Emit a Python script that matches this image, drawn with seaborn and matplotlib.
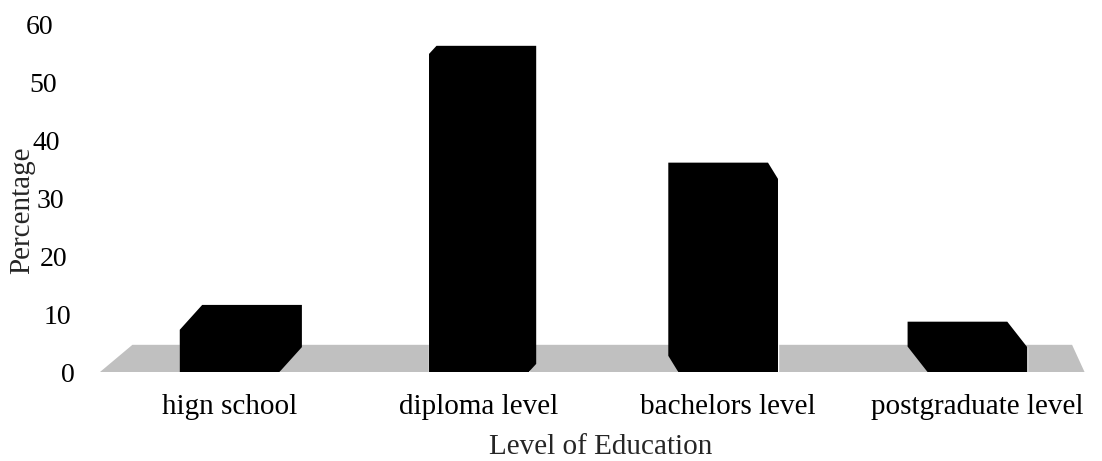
import matplotlib
matplotlib.use("Agg")
import matplotlib.pyplot as plt
import matplotlib.transforms as mtransforms
from matplotlib.patches import Polygon
import seaborn as sns
import pandas as pd

# data
levels = ["hign school", "diploma level", "bachelors level", "postgraduate level"]
percent = [7.3, 55.0, 33.4, 4.3]
yticks = [0, 10, 20, 30, 40, 50, 60]

df = pd.DataFrame({"level": levels, "percent": percent})

sns.set_theme(style="white")
plt.rcParams["font.family"] = ["Liberation Serif", "DejaVu Serif"]

fig = plt.figure(figsize=(11.02, 4.61), dpi=100)
ax = fig.add_axes([100 / 1102, (461 - 372) / 461, 1002 / 1102, 347 / 461])

# grey floor (drawn first, behind the bars)
floor = Polygon([(-0.52, 0), (3.43, 0), (3.38, 4.7), (-0.39, 4.7)],
                closed=True, facecolor="#c0c0c0", edgecolor="none", zorder=0)
ax.add_patch(floor)

sns.barplot(data=df, x="level", y="percent", color="black", width=0.4,
            saturation=1, ax=ax, zorder=2)
bars = [p for p in ax.patches if p is not floor]

# fake 3D depth: back face offset per bar (x shift in data units, y shift)
depth_dx = [0.09, 0.03, -0.04, -0.08]
depth_dy = [4.3, 1.4, 2.8, 4.4]
for bar, dx, dy in zip(bars, depth_dx, depth_dy):
    x0 = bar.get_x()
    x1 = x0 + bar.get_width()
    h = bar.get_height()
    if dx > 0:
        pts = [(x0, 0), (x1, 0), (x1 + dx, dy), (x1 + dx, h + dy),
               (x0 + dx, h + dy), (x0, h)]
    else:
        pts = [(x0, 0), (x1, 0), (x1, h), (x1 + dx, h + dy),
               (x0 + dx, h + dy), (x0 + dx, dy)]
    ax.add_patch(Polygon(pts, closed=True, facecolor="black",
                         edgecolor="none", zorder=2))

ax.set_xlim(-0.52, 3.5)
ax.set_ylim(0, 60)
ax.set_yticks(yticks)
ax.tick_params(axis="y", length=0, labelsize=20, colors="black", pad=18)
ax.tick_params(axis="x", length=0, labelsize=21, colors="black", pad=16)

# tick labels drift left as they go up (perspective look)
for lab, v in zip(ax.get_yticklabels(), yticks):
    shift = v * 22 / 60
    lab.set_transform(lab.get_transform() +
                      mtransforms.ScaledTranslation(-shift / 100, 0, fig.dpi_scale_trans))

ax.set_xlabel("Level of Education", fontsize=21, labelpad=10)
ax.set_ylabel("")
fig.text(22 / 1102, 1 - 210 / 461, "Percentage", rotation=90, fontsize=21,
         ha="center", va="center")

sns.despine(ax=ax, left=True, bottom=True)
ax.grid(False)

fig.savefig("out.png", dpi=100)
